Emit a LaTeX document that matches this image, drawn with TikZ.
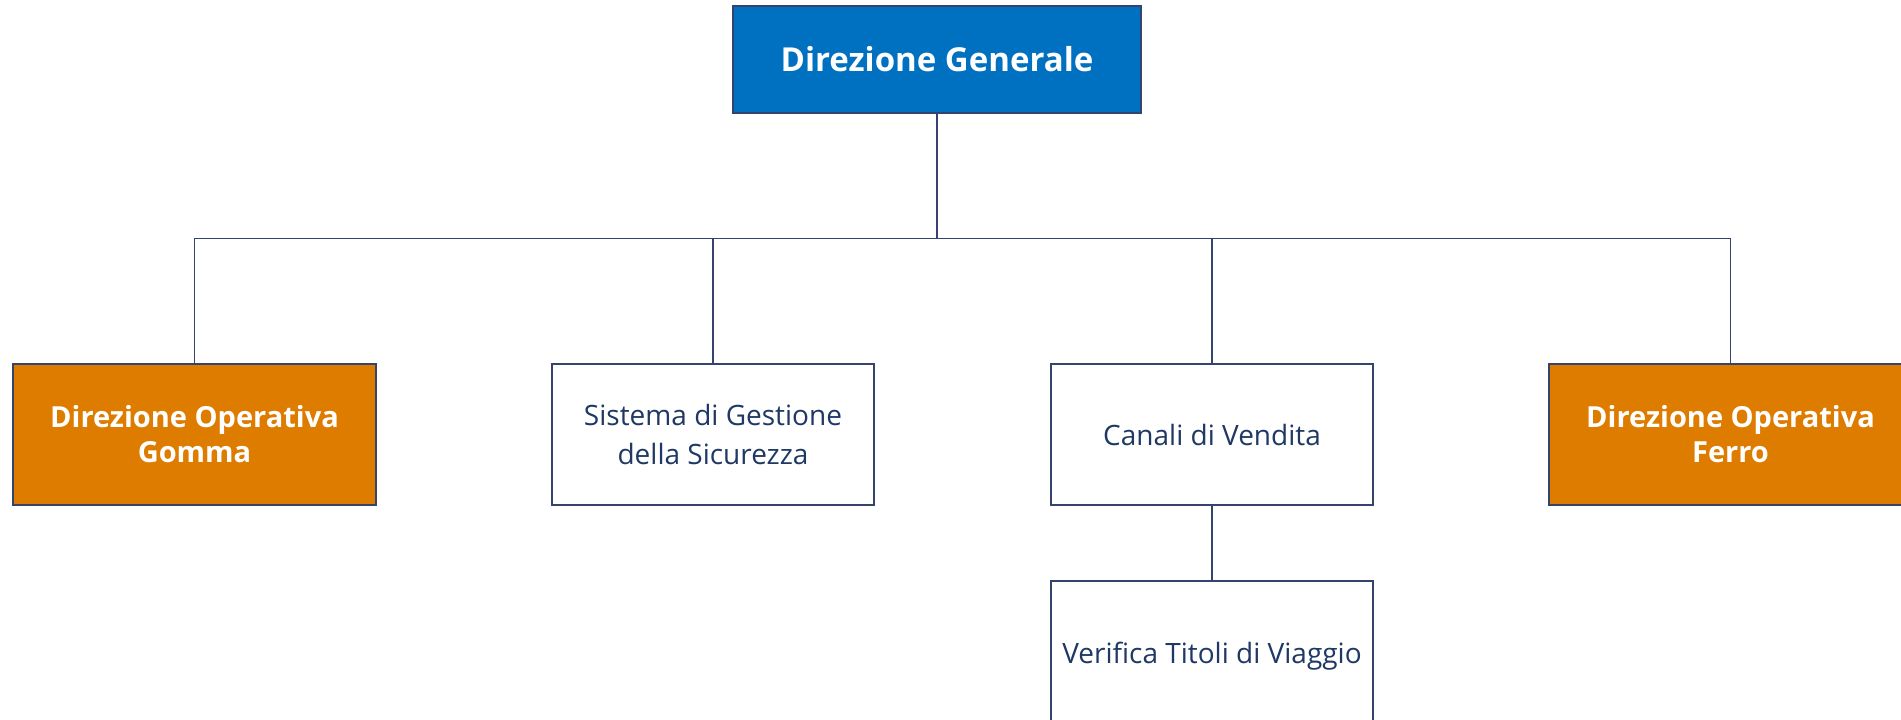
\documentclass[tikz,border=0pt]{standalone}
\usepackage{fontspec}
\setmainfont{Open Sans}
\definecolor{dgblue}{RGB}{0,112,192}
\definecolor{dorange}{RGB}{222,124,0}
\definecolor{navytxt}{RGB}{31,56,100}
\definecolor{linecol}{RGB}{52,68,108}
\tikzset{
  box/.style={draw=linecol, line width=1.1pt, rectangle, inner sep=0pt, align=center},
  topbox/.style={box, fill=dgblue, text=white, font=\fontsize{33}{40}\selectfont\bfseries, minimum width=408pt, minimum height=107pt},
  opbox/.style={box, fill=dorange, text=white, font=\fontsize{29}{35}\selectfont\bfseries, minimum width=363pt, minimum height=141pt},
  whitebox/.style={box, fill=white, text=navytxt, font=\fontsize{28}{39}\selectfont, minimum width=322pt, minimum height=141pt},
  conn/.style={draw=linecol, line width=1.1pt}
}
\begin{document}
\begin{tikzpicture}[x=1pt,y=-1pt]
\clip (0,0) rectangle (1901,720);
\fill[white] (0,0) rectangle (1901,720);
\node[topbox] (dg) at (937,59.5) {Direzione Generale};
\node[opbox] (gomma) at (194.5,434.5) {Direzione Operativa\\Gomma};
\node[whitebox] (sic) at (713,434.5) {Sistema di Gestione\\della Sicurezza};
\node[whitebox] (can) at (1212,434.5) {Canali di Vendita};
\node[opbox] (ferro) at (1730.5,434.5) {Direzione Operativa\\Ferro};
\node[whitebox, minimum height=150pt] (ver) at (1212,656) {Verifica Titoli di Viaggio};
\coordinate (bus) at (937,238.5);
\draw[conn] (dg.south) -- (bus);
\draw[conn] (gomma.north) |- (bus) -| (ferro.north);
\draw[conn] (sic.north) -- (sic.north |- bus);
\draw[conn] (can.north) -- (can.north |- bus);
\draw[conn] (can.south) -- (ver.north);
\end{tikzpicture}
\end{document}
